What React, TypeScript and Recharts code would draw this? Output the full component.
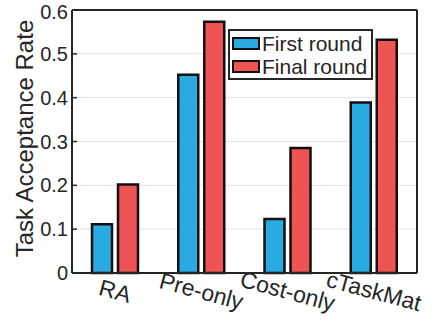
import React from 'react';
import {
  BarChart,
  Bar,
  XAxis,
  YAxis,
  CartesianGrid,
  Legend,
} from 'recharts';

const methods = ['RA', 'Pre-only', 'Cost-only', 'cTaskMat'];
const firstRound = [0.111, 0.452, 0.123, 0.389];
const finalRound = [0.202, 0.573, 0.285, 0.532];
const yTicks = [0, 0.1, 0.2, 0.3, 0.4, 0.5, 0.6];
const seriesNames = ['First round', 'Final round'];

const FONT = '"Liberation Sans", Arial, Helvetica, sans-serif';
const INK = '#262626';
const BLUE = '#29ABE2';
const RED = '#EE5454';

const data = methods.map((m, i) => ({
  name: m,
  first: firstRound[i],
  final: finalRound[i],
}));

// rotated category labels, like MATLAB XTickLabelRotation
const XTick = ({ x, y, payload }: any) => {
  const cy = y + 18;
  return (
    <text
      x={x}
      y={cy + 8}
      textAnchor="middle"
      fill={INK}
      fontSize={23}
      fontFamily={FONT}
      transform={`rotate(15, ${x}, ${cy})`}
    >
      {payload.value}
    </text>
  );
};

const YLabel = ({ viewBox }: any) => {
  const cx = viewBox.x + 33;
  const cy = viewBox.y + viewBox.height / 2 - 3;
  return (
    <text
      x={cx}
      y={cy}
      textAnchor="middle"
      fill={INK}
      fontSize={24}
      fontFamily={FONT}
      transform={`rotate(-90, ${cx}, ${cy})`}
    >
      Task Acceptance Rate
    </text>
  );
};

const LegendBox = ({ payload }: any) => {
  const items = [...(payload || [])].sort(
    (a: any, b: any) => seriesNames.indexOf(a.value) - seriesNames.indexOf(b.value)
  );
  return (
    <div
      style={{
        boxSizing: 'border-box',
        width: 145,
        height: 51,
        border: `2px solid ${INK}`,
        background: '#fff',
        padding: '1px 2px 0 2px',
        fontFamily: FONT,
        fontSize: 21,
        color: INK,
        whiteSpace: 'nowrap',
      }}
    >
      {items.map((p: any) => (
        <div key={p.value} style={{ display: 'flex', alignItems: 'center', height: 23 }}>
          <span
            style={{
              boxSizing: 'border-box',
              width: 28,
              height: 13,
              border: '2px solid #111',
              background: p.color,
              marginRight: 2,
              flex: 'none',
            }}
          />
          <span style={{ lineHeight: '23px' }}>{p.value}</span>
        </div>
      ))}
    </div>
  );
};

export default function App() {
  return (
    <div style={{ position: 'absolute', left: 0, top: 0, background: '#fff' }}>
      <BarChart
        width={439}
        height={325}
        data={data}
        margin={{ top: 8, right: 20, left: 0, bottom: 0 }}
        barGap={6}
        barSize={20}
      >
        <CartesianGrid
          vertical={false}
          horizontalValues={[0.1, 0.2, 0.3, 0.4, 0.5]}
          stroke="#e2e2e2"
          strokeWidth={1}
          yAxisId="left"
        />
        <XAxis
          dataKey="name"
          xAxisId="bottom"
          height={52}
          tickLine={false}
          tickSize={0}
          tickMargin={0}
          axisLine={{ stroke: INK, strokeWidth: 2 }}
          tick={<XTick />}
          interval={0}
        />
        <XAxis
          dataKey="name"
          xAxisId="top"
          orientation="top"
          height={2}
          tickSize={-5}
          tick={false}
          tickLine={{ stroke: INK, strokeWidth: 1.5 }}
          axisLine={{ stroke: INK, strokeWidth: 2 }}
        />
        <YAxis
          yAxisId="left"
          domain={[0, 0.6]}
          ticks={yTicks}
          width={72}
          tickSize={-5}
          tickMargin={9}
          tickLine={{ stroke: INK, strokeWidth: 1.5 }}
          axisLine={{ stroke: INK, strokeWidth: 2 }}
          tick={{ fill: INK, fontSize: 20, fontFamily: FONT }}
          tickFormatter={(v: number) => (v === 0 ? '0' : String(v))}
          label={<YLabel />}
        />
        <YAxis
          yAxisId="right"
          orientation="right"
          domain={[0, 0.6]}
          ticks={yTicks}
          width={2}
          tickSize={-5}
          tick={false}
          tickLine={{ stroke: INK, strokeWidth: 1.5 }}
          axisLine={{ stroke: INK, strokeWidth: 2 }}
        />
        <Legend
          layout="vertical"
          align="center"
          verticalAlign="middle"
          wrapperStyle={{ top: 29, left: 228, width: 145 }}
          content={<LegendBox />}
        />
        <Bar
          dataKey="first"
          name="First round"
          xAxisId="bottom"
          yAxisId="left"
          fill={BLUE}
          stroke="#111"
          strokeWidth={2.5}
          isAnimationActive={false}
        />
        <Bar
          dataKey="final"
          name="Final round"
          xAxisId="bottom"
          yAxisId="left"
          fill={RED}
          stroke="#111"
          strokeWidth={2.5}
          isAnimationActive={false}
        />
      </BarChart>
    </div>
  );
}
